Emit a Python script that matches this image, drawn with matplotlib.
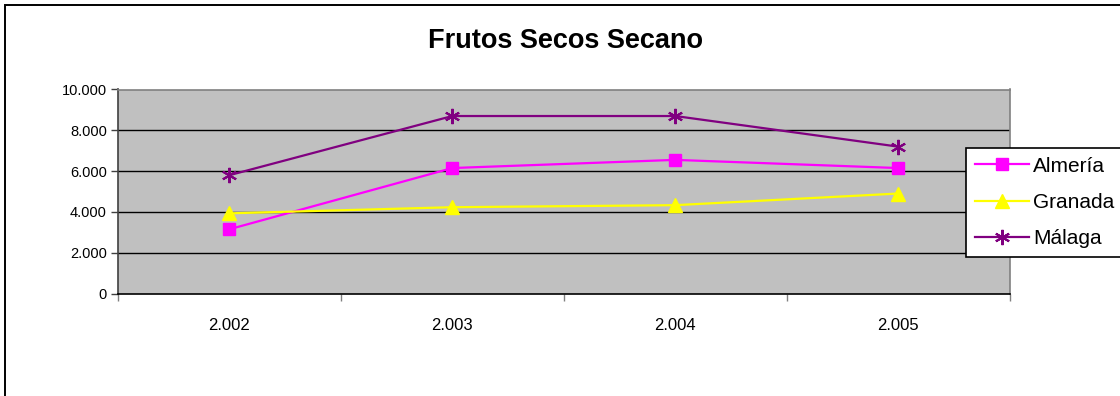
import matplotlib
matplotlib.use("Agg")
import matplotlib.pyplot as plt
from matplotlib.patches import Rectangle
from matplotlib.ticker import FuncFormatter, FixedLocator

plt.rcParams["font.family"] = ["Liberation Sans", "DejaVu Sans"]

# datos
years = ["2.002", "2.003", "2.004", "2.005"]
almeria = [3150, 6150, 6550, 6150]
granada = [3930, 4230, 4330, 4900]
malaga = [5800, 8700, 8700, 7200]

W, H = 1120, 396
fig = plt.figure(figsize=(W / 100, H / 100), dpi=100)
ax = fig.add_axes([118 / W, 1 - 293.5 / H, (1009.5 - 118) / W, (293.5 - 89.5) / H])
ax.set_facecolor("#C0C0C0")

# marco exterior del gráfico
fig.patches.append(Rectangle((5 / W, -0.1), 1.2, 1 - 5 / H + 0.1,
                             transform=fig.transFigure, fill=False,
                             edgecolor="#000000", linewidth=1.4, clip_on=False))

x = [i + 0.5 for i in range(len(years))]
ax.plot(x, almeria, color="#FF00FF", linewidth=1.6, marker="s",
        markersize=9, markeredgecolor="#FF00FF", label="Almería", zorder=3)
ax.plot(x, granada, color="#FFFF00", linewidth=1.6, marker="^",
        markersize=10, markeredgecolor="#FFFF00", label="Granada", zorder=3)
ax.plot(x, malaga, color="#800080", linewidth=1.6, marker=(6, 2, 0),
        markersize=11, markeredgewidth=1.5, label="Málaga", zorder=3)

ax.set_xlim(0, len(years))
ax.set_ylim(0, 10000)

# eje X: marcas entre categorías, etiquetas centradas
ax.xaxis.set_major_locator(FixedLocator(range(len(years) + 1)))
ax.xaxis.set_minor_locator(FixedLocator(x))
ax.set_xticklabels([""] * (len(years) + 1))
ax.set_xticklabels(years, minor=True)
ax.tick_params(axis="x", which="major", direction="out", length=5,
               width=1, color="#808080")
ax.tick_params(axis="x", which="minor", length=0, labelsize=12, pad=18)

ax.set_yticks(range(0, 10001, 2000))
ax.yaxis.set_major_formatter(FuncFormatter(lambda v, p: f"{int(v):,}".replace(",", ".")))
ax.tick_params(axis="y", direction="out", length=5, width=1, color="#404040",
               labelsize=10.5, pad=3)

for yv in range(2000, 10000, 2000):
    ax.axhline(yv, color="#000000", linewidth=1.0, zorder=1)

ax.spines["top"].set_color("#808080")
ax.spines["right"].set_color("#808080")
ax.spines["left"].set_color("#404040")
ax.spines["bottom"].set_color("#000000")
for s in ax.spines.values():
    s.set_linewidth(1.2)

fig.text(565 / W, 1 - 41 / H, "Frutos Secos Secano", ha="center", va="center",
         fontsize=19.5, fontweight="bold")

leg = fig.legend(loc="upper left", bbox_to_anchor=(966 / W, 1 - 148 / H),
                 bbox_transform=fig.transFigure, fontsize=15, frameon=True,
                 fancybox=False, edgecolor="#000000", framealpha=1,
                 borderaxespad=0, borderpad=0.42, handlelength=2.6,
                 handletextpad=0.2, labelspacing=0.82)
leg.get_frame().set_linewidth(1.2)

fig.savefig("out.png", dpi=100)
